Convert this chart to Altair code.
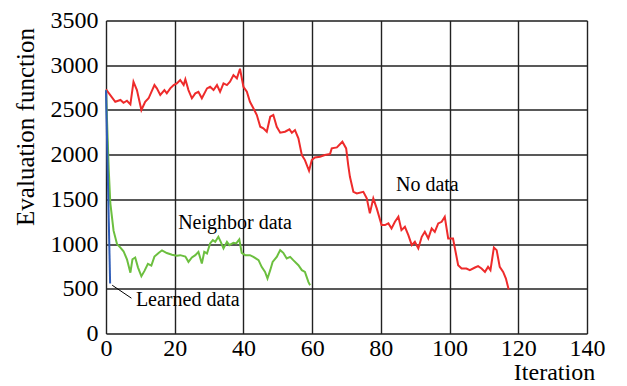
import altair as alt
import pandas as pd

# ---- data ----
red_x = [0, 2.7, 4.2, 5.1, 6.1, 7.1, 8.0, 9.0, 10.3, 11.4, 12.4, 14.1, 14.8, 15.8, 17.0, 17.7, 18.7, 19.7, 20.6, 21.6,
         22.6, 23.1, 24.0, 25.0, 26.0, 26.9, 27.9, 29.4, 30.3, 31.3, 32.3, 33.2, 34.2, 35.2, 36.1, 37.1, 38.1, 39.0, 40.0, 41.0,
         41.9, 42.9, 43.9, 44.9, 45.8, 46.8, 47.8, 48.7, 49.7, 50.7, 52.1, 53.4, 54.1, 55.0, 56.0, 57.0, 57.9, 59.1, 59.9, 60.8,
         62.3, 63.7, 65.2, 65.7, 67.2, 68.8, 69.9, 70.5, 71.0, 72.0, 73.0, 74.9, 75.9, 76.8, 77.8, 78.8, 80.2, 81.2, 82.2, 83.1,
         84.1, 85.1, 86.0, 87.0, 88.0, 89.0, 89.9, 90.9, 91.9, 92.8, 93.8, 94.8, 95.7, 96.7, 97.7, 98.6, 99.6, 101.0, 102.5, 103.5,
         104.9, 105.9, 107.4, 108.3, 109.3, 110.3, 111.2, 111.9, 112.9, 113.7, 114.6, 115.6, 116.4, 117.2]
red_y = [2730, 2591, 2611, 2580, 2603, 2562, 2815, 2722, 2499, 2591, 2630, 2778, 2741, 2667, 2722, 2685, 2741, 2778, 2797, 2834,
         2778, 2842, 2722, 2630, 2685, 2703, 2630, 2741, 2759, 2722, 2778, 2703, 2797, 2778, 2815, 2890, 2853, 2960, 2759, 2703,
         2591, 2518, 2443, 2312, 2294, 2256, 2424, 2443, 2312, 2245, 2256, 2283, 2245, 2275, 2182, 1995, 1939, 1819, 1939, 1969,
         1976, 1995, 2006, 2070, 2081, 2144, 2070, 1883, 1752, 1584, 1566, 1584, 1511, 1343, 1511, 1399, 1212, 1212, 1231, 1175,
         1249, 1305, 1156, 1193, 1100, 988, 1025, 951, 1081, 1137, 1063, 1175, 1137, 1231, 1249, 1305, 1063, 1063, 764, 727,
         727, 708, 738, 753, 727, 689, 745, 708, 962, 932, 745, 689, 615, 492]

green_x = [0, 0.8, 1.25, 2.2, 3.2, 4.2, 5.1, 6.1, 7.1, 7.7, 8.5, 9.3, 10.3, 11.2, 12.2, 13.2, 14.1, 15.3, 16.3, 17.7,
           19.2, 20.6, 21.6, 23.1, 24.0, 25.0, 26.0, 26.9, 27.9, 28.6, 29.4, 30.3, 31.1, 31.8, 32.7, 33.4, 34.2, 35.2, 35.9, 37.1,
           37.9, 38.8, 39.5, 40.5, 41.9, 42.9, 44.4, 45.3, 46.3, 47.0, 47.8, 48.5, 49.7, 50.7, 51.6, 52.6, 53.6, 54.5, 56.0, 57.0,
           57.9, 58.9, 59.4]
green_y = [2720, 1830, 1460, 1150, 1000, 960, 920, 830, 680, 830, 850, 740, 640, 700, 780, 760, 860, 900, 930, 900,
           880, 870, 876, 860, 801, 850, 876, 913, 783, 913, 895, 1007, 1044, 1025, 1081, 1025, 951, 1025, 988, 1014,
           1007, 1052, 902, 876, 876, 857, 820, 745, 689, 615, 708, 801, 857, 932, 902, 839, 857, 820, 764, 708,
           689, 577, 540]

blue_x = [0, 1.2]
blue_y = [2720, 560]

leader_x = [1.8, 7.4]
leader_y = [540, 395]

label_text = ["Neighbor data", "No data", "Learned data"]
label_x = [21.0, 84.4, 8.7]
label_y = [1234, 1659, 378]

x_ticks = [0, 20, 40, 60, 80, 100, 120, 140]
y_ticks = [0, 500, 1000, 1500, 2000, 2500, 3000, 3500]

FONT = "Liberation Serif, Times New Roman, DejaVu Serif, serif"


def frame(xs, ys):
    return pd.DataFrame({"iter": xs, "value": ys, "order": list(range(len(xs)))})


x_enc = alt.X(
    "iter:Q",
    scale=alt.Scale(domain=[0, 140], nice=False, zero=False),
    axis=alt.Axis(
        values=x_ticks, format="d", title="Iteration", grid=True, ticks=False, domain=False,
        labelPadding=3, labelFont=FONT, labelFontSize=24, labelColor="black",
        titleFont=FONT, titleFontSize=24, titleFontWeight="normal", titleColor="black",
        titleX=448, titleY=46, titleAlign="center", titleBaseline="alphabetic",
        gridColor="#222222", gridWidth=1.4, labelFlush=False,
    ),
)
y_enc = alt.Y(
    "value:Q",
    scale=alt.Scale(domain=[0, 3500], nice=False),
    axis=alt.Axis(
        values=y_ticks, format="d", title="Evaluation function", grid=True, ticks=False, domain=False,
        labelPadding=8, labelFont=FONT, labelFontSize=24, labelColor="black",
        titleFont=FONT, titleFontSize=25, titleFontWeight="normal", titleColor="black",
        titleAngle=270, titleX=-73, titleY=106, titleAlign="center", titleBaseline="alphabetic",
        gridColor="#222222", gridWidth=1.4, labelFlush=False,
    ),
)


def line(xs, ys, color, width=2):
    return alt.Chart(frame(xs, ys)).mark_line(color=color, strokeWidth=width).encode(
        x=x_enc, y=y_enc, order="order:Q"
    )


red = line(red_x, red_y, "#ee2b2b")
green = line(green_x, green_y, "#6cbf3f")
blue = line(blue_x, blue_y, "#2e5cb8")
leader = line(leader_x, leader_y, "black", 1)

labels = alt.Chart(pd.DataFrame({"iter": label_x, "value": label_y, "text": label_text})).mark_text(
    align="left", baseline="middle", font=FONT, fontSize=20, color="black"
).encode(x=x_enc, y=y_enc, text="text:N")

chart = alt.layer(red, green, blue, leader, labels).properties(
    width=481, height=313,
    autosize=alt.AutoSizeParams(type="none"),
    padding={"left": 98, "top": 12.5, "right": 32, "bottom": 52},
).configure_view(stroke="black", strokeWidth=2).configure(background="white")

chart.save("out.html", embed_options={"renderer": "svg", "actions": False})
